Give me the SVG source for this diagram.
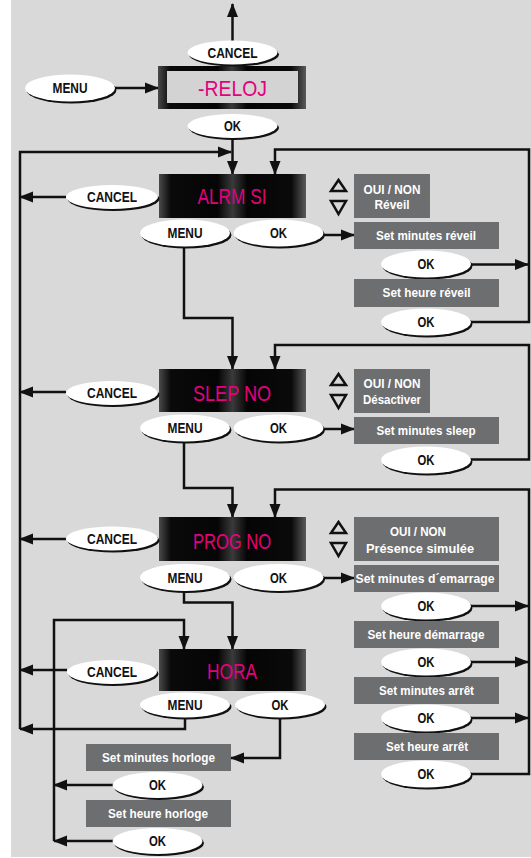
<svg xmlns="http://www.w3.org/2000/svg" width="531" height="858" viewBox="0 0 531 858">
<defs>
<style>
.bg{fill:#d9d9d9}
.ln{fill:none;stroke:#111;stroke-width:2.5;marker-end:url(#ah)}
.sh{fill:#111}
.bf{fill:#fff}
.bt{font-family:"Liberation Sans",Arial,sans-serif;font-weight:bold;font-size:14px;fill:#111;text-anchor:middle}
.bx{fill:#6d6e70}
.bxt{font-family:"Liberation Sans",Arial,sans-serif;font-weight:bold;font-size:13.5px;fill:#fff;text-anchor:middle}
.lcd{fill:url(#lcdg)}
.lt{font-family:"Liberation Sans",Arial,sans-serif;font-size:22px;fill:#e5007d;text-anchor:middle}
.tri{fill:none;stroke:#111;stroke-width:2.5;stroke-linejoin:miter}
</style>
<marker id="ah" markerUnits="userSpaceOnUse" markerWidth="15" markerHeight="12" refX="13" refY="6" orient="auto" viewBox="0 0 15 12"><path d="M0,0.5 L14,6 L0,11.5 Z" fill="#111"/></marker>
<linearGradient id="lcdg" x1="0" y1="0" x2="1" y2="0">
<stop offset="0" stop-color="#4a4a4a"/>
<stop offset="0.08" stop-color="#0a0a0a"/>
<stop offset="0.4" stop-color="#050505"/>
<stop offset="0.5" stop-color="#3a3a3a"/>
<stop offset="0.6" stop-color="#050505"/>
<stop offset="0.9" stop-color="#0a0a0a"/>
<stop offset="1" stop-color="#5a5a5a"/>
</linearGradient>
</defs>
<rect class="bg" x="11" y="0" width="520" height="857"/>

<g id="connectors">
<path class="ln" d="M232.5,41 V4"/>
<path class="ln" d="M115,88 H158"/>
<path class="ln" d="M232.5,138 V174"/>
<path class="ln" d="M20,729 V152 H231"/>
<path class="ln" d="M66,197 H20"/>
<path class="ln" d="M323,235 H354"/>
<path class="ln" d="M471,264.5 H528"/>
<path class="ln" d="M471,322 H529 V149.5 H275 V174"/>
<path class="ln" d="M184,246 V318 H232.5 V369"/>
<path class="ln" d="M66,392 H20"/>
<path class="ln" d="M323,429 H354"/>
<path class="ln" d="M471,459.5 H529 V345 H275 V369"/>
<path class="ln" d="M184,441 V488 H232.5 V517"/>
<path class="ln" d="M66,539 H20"/>
<path class="ln" d="M323,578 H354"/>
<path class="ln" d="M471,606 H528"/>
<path class="ln" d="M471,662 H528"/>
<path class="ln" d="M471,718 H528"/>
<path class="ln" d="M471,774 H529 V489.5 H275 V517"/>
<path class="ln" d="M184,591 V602.5 H232.5 V649"/>
<path class="ln" d="M54,841 V620 H184 V649"/>
<path class="ln" d="M113,785 H54"/>
<path class="ln" d="M113,841 H54"/>
<path class="ln" d="M67,670 H20"/>
<path class="ln" d="M185,718 V729 H20"/>
<path class="ln" d="M280,718 V758 H231"/>
</g>

<g id="disp-reloj">
<rect class="lcd" x="158" y="66" width="148" height="43"/>
<rect x="167" y="71" width="131" height="32" fill="#d3d3d3"/>
<text class="lt" x="232.5" y="96" textLength="69" lengthAdjust="spacingAndGlyphs">-RELOJ</text>
</g>
<g id="disp-alrm">
<rect class="lcd" x="159" y="174" width="147" height="44"/>
<text class="lt" x="232" y="204" textLength="69" lengthAdjust="spacingAndGlyphs">ALRM SI</text>
</g>
<g id="disp-slep">
<rect class="lcd" x="159" y="369" width="147" height="43"/>
<text class="lt" x="232" y="401" textLength="78" lengthAdjust="spacingAndGlyphs">SLEP NO</text>
</g>
<g id="disp-prog">
<rect class="lcd" x="159" y="517" width="147" height="44"/>
<text class="lt" x="232" y="549" textLength="78" lengthAdjust="spacingAndGlyphs">PROG NO</text>
</g>
<g id="disp-hora">
<rect class="lcd" x="159" y="649" width="147" height="42"/>
<text class="lt" x="232" y="679" textLength="50" lengthAdjust="spacingAndGlyphs">HORA</text>
</g>

<g id="btn-cancel-top"><ellipse class="sh" cx="234" cy="54.5" rx="45" ry="12"/><ellipse class="bf" cx="232.5" cy="52.5" rx="45" ry="12"/><text class="bt" x="232.5" y="57.5" textLength="50" lengthAdjust="spacingAndGlyphs">CANCEL</text></g>
<g id="btn-menu-top"><ellipse class="sh" cx="71.5" cy="90" rx="45" ry="13.5"/><ellipse class="bf" cx="70" cy="88" rx="45" ry="13.5"/><text class="bt" x="70" y="93" textLength="35" lengthAdjust="spacingAndGlyphs">MENU</text></g>
<g id="btn-ok-reloj"><ellipse class="sh" cx="234" cy="128" rx="45" ry="12"/><ellipse class="bf" cx="232.5" cy="126" rx="45" ry="12"/><text class="bt" x="232.5" y="131" textLength="17" lengthAdjust="spacingAndGlyphs">OK</text></g>

<g id="btn-cancel-alrm"><ellipse class="sh" cx="113.5" cy="199" rx="46" ry="12"/><ellipse class="bf" cx="112" cy="197" rx="46" ry="12"/><text class="bt" x="112" y="202" textLength="50" lengthAdjust="spacingAndGlyphs">CANCEL</text></g>
<g id="btn-menu-alrm"><ellipse class="sh" cx="186.5" cy="235" rx="45" ry="13.5"/><ellipse class="bf" cx="185" cy="233" rx="45" ry="13.5"/><text class="bt" x="185" y="238" textLength="35" lengthAdjust="spacingAndGlyphs">MENU</text></g>
<g id="btn-ok-alrm"><ellipse class="sh" cx="280" cy="235" rx="45" ry="13.5"/><ellipse class="bf" cx="278.5" cy="233" rx="45" ry="13.5"/><text class="bt" x="278.5" y="238" textLength="17" lengthAdjust="spacingAndGlyphs">OK</text></g>
<g id="sel-alrm"><path class="tri" d="M331,191 H346 L338.5,180 Z"/><path class="tri" d="M331,201 H346 L338.5,214 Z"/><rect class="bx" x="354" y="174" width="76" height="44"/><text class="bxt" x="392" y="193.5" textLength="57" lengthAdjust="spacingAndGlyphs">OUI / NON</text><text class="bxt" x="392" y="209" textLength="35" lengthAdjust="spacingAndGlyphs">Réveil</text></g>
<g id="box-min-reveil"><rect class="bx" x="354" y="222" width="145" height="27"/><text class="bxt" x="426" y="240" textLength="100" lengthAdjust="spacingAndGlyphs">Set minutes réveil</text></g>
<g id="btn-ok-min-reveil"><ellipse class="sh" cx="427.5" cy="266" rx="45" ry="13.5"/><ellipse class="bf" cx="426" cy="264" rx="45" ry="13.5"/><text class="bt" x="426" y="269" textLength="17" lengthAdjust="spacingAndGlyphs">OK</text></g>
<g id="box-heure-reveil"><rect class="bx" x="354" y="279" width="145" height="28"/><text class="bxt" x="426.5" y="297" textLength="88" lengthAdjust="spacingAndGlyphs">Set heure réveil</text></g>
<g id="btn-ok-heure-reveil"><ellipse class="sh" cx="427.5" cy="324" rx="45" ry="13.5"/><ellipse class="bf" cx="426" cy="322" rx="45" ry="13.5"/><text class="bt" x="426" y="327" textLength="17" lengthAdjust="spacingAndGlyphs">OK</text></g>

<g id="btn-cancel-slep"><ellipse class="sh" cx="113.5" cy="395" rx="46" ry="12"/><ellipse class="bf" cx="112" cy="393" rx="46" ry="12"/><text class="bt" x="112" y="398" textLength="50" lengthAdjust="spacingAndGlyphs">CANCEL</text></g>
<g id="btn-menu-slep"><ellipse class="sh" cx="186.5" cy="430" rx="45" ry="13.5"/><ellipse class="bf" cx="185" cy="428" rx="45" ry="13.5"/><text class="bt" x="185" y="433" textLength="35" lengthAdjust="spacingAndGlyphs">MENU</text></g>
<g id="btn-ok-slep"><ellipse class="sh" cx="280" cy="430" rx="45" ry="13.5"/><ellipse class="bf" cx="278.5" cy="428" rx="45" ry="13.5"/><text class="bt" x="278.5" y="433" textLength="17" lengthAdjust="spacingAndGlyphs">OK</text></g>
<g id="sel-slep"><path class="tri" d="M331,385 H346 L338.5,374 Z"/><path class="tri" d="M331,395 H346 L338.5,408 Z"/><rect class="bx" x="354" y="369" width="76" height="44"/><text class="bxt" x="392" y="387.5" textLength="57" lengthAdjust="spacingAndGlyphs">OUI / NON</text><text class="bxt" x="392" y="404" textLength="58" lengthAdjust="spacingAndGlyphs">Désactiver</text></g>
<g id="box-min-sleep"><rect class="bx" x="354" y="417" width="145" height="27"/><text class="bxt" x="426" y="435" textLength="99" lengthAdjust="spacingAndGlyphs">Set minutes sleep</text></g>
<g id="btn-ok-sleep"><ellipse class="sh" cx="427.5" cy="462" rx="45" ry="13.5"/><ellipse class="bf" cx="426" cy="460" rx="45" ry="13.5"/><text class="bt" x="426" y="465" textLength="17" lengthAdjust="spacingAndGlyphs">OK</text></g>

<g id="btn-cancel-prog"><ellipse class="sh" cx="113.5" cy="540.5" rx="46" ry="12"/><ellipse class="bf" cx="112" cy="538.5" rx="46" ry="12"/><text class="bt" x="112" y="543.5" textLength="50" lengthAdjust="spacingAndGlyphs">CANCEL</text></g>
<g id="btn-menu-prog"><ellipse class="sh" cx="186.5" cy="579.5" rx="45" ry="13.5"/><ellipse class="bf" cx="185" cy="577.5" rx="45" ry="13.5"/><text class="bt" x="185" y="582.5" textLength="35" lengthAdjust="spacingAndGlyphs">MENU</text></g>
<g id="btn-ok-prog"><ellipse class="sh" cx="280" cy="579.5" rx="45" ry="13.5"/><ellipse class="bf" cx="278.5" cy="577.5" rx="45" ry="13.5"/><text class="bt" x="278.5" y="582.5" textLength="17" lengthAdjust="spacingAndGlyphs">OK</text></g>
<g id="sel-prog"><path class="tri" d="M331,533 H346 L338.5,522 Z"/><path class="tri" d="M331,543 H346 L338.5,556 Z"/><rect class="bx" x="354" y="517" width="145" height="44"/><text class="bxt" x="418" y="535.5" textLength="56" lengthAdjust="spacingAndGlyphs">OUI / NON</text><text class="bxt" x="420" y="553" textLength="108" lengthAdjust="spacingAndGlyphs">Présence simulée</text></g>
<g id="box-min-dem"><rect class="bx" x="354" y="565" width="145" height="27"/><text class="bxt" x="425" y="583" textLength="139" lengthAdjust="spacingAndGlyphs">Set minutes d´emarrage</text></g>
<g id="btn-ok-min-dem"><ellipse class="sh" cx="427.5" cy="608" rx="45" ry="13.5"/><ellipse class="bf" cx="426" cy="606" rx="45" ry="13.5"/><text class="bt" x="426" y="611" textLength="17" lengthAdjust="spacingAndGlyphs">OK</text></g>
<g id="box-heure-dem"><rect class="bx" x="354" y="621" width="145" height="27"/><text class="bxt" x="426" y="639" textLength="117" lengthAdjust="spacingAndGlyphs">Set heure démarrage</text></g>
<g id="btn-ok-heure-dem"><ellipse class="sh" cx="427.5" cy="664" rx="45" ry="13.5"/><ellipse class="bf" cx="426" cy="662" rx="45" ry="13.5"/><text class="bt" x="426" y="667" textLength="17" lengthAdjust="spacingAndGlyphs">OK</text></g>
<g id="box-min-arret"><rect class="bx" x="354" y="677" width="145" height="27"/><text class="bxt" x="426.5" y="695" textLength="95" lengthAdjust="spacingAndGlyphs">Set minutes arrêt</text></g>
<g id="btn-ok-min-arret"><ellipse class="sh" cx="427.5" cy="720" rx="45" ry="13.5"/><ellipse class="bf" cx="426" cy="718" rx="45" ry="13.5"/><text class="bt" x="426" y="723" textLength="17" lengthAdjust="spacingAndGlyphs">OK</text></g>
<g id="box-heure-arret"><rect class="bx" x="354" y="733" width="145" height="27"/><text class="bxt" x="427" y="751" textLength="82" lengthAdjust="spacingAndGlyphs">Set heure arrêt</text></g>
<g id="btn-ok-heure-arret"><ellipse class="sh" cx="427.5" cy="776" rx="45" ry="13.5"/><ellipse class="bf" cx="426" cy="774" rx="45" ry="13.5"/><text class="bt" x="426" y="779" textLength="17" lengthAdjust="spacingAndGlyphs">OK</text></g>

<g id="btn-cancel-hora"><ellipse class="sh" cx="113.5" cy="674" rx="45" ry="12"/><ellipse class="bf" cx="112" cy="672" rx="45" ry="12"/><text class="bt" x="112" y="677" textLength="50" lengthAdjust="spacingAndGlyphs">CANCEL</text></g>
<g id="btn-menu-hora"><ellipse class="sh" cx="186.5" cy="707" rx="45" ry="12.5"/><ellipse class="bf" cx="185" cy="705" rx="45" ry="12.5"/><text class="bt" x="185" y="710" textLength="35" lengthAdjust="spacingAndGlyphs">MENU</text></g>
<g id="btn-ok-hora"><ellipse class="sh" cx="281.5" cy="707" rx="45" ry="12.5"/><ellipse class="bf" cx="280" cy="705" rx="45" ry="12.5"/><text class="bt" x="280" y="710" textLength="17" lengthAdjust="spacingAndGlyphs">OK</text></g>
<g id="box-min-horloge"><rect class="bx" x="86" y="744" width="145" height="27"/><text class="bxt" x="158.5" y="762" textLength="113" lengthAdjust="spacingAndGlyphs">Set minutes horloge</text></g>
<g id="btn-ok-min-horloge"><ellipse class="sh" cx="159" cy="787" rx="45" ry="13"/><ellipse class="bf" cx="157.5" cy="785" rx="45" ry="13"/><text class="bt" x="157.5" y="790" textLength="17" lengthAdjust="spacingAndGlyphs">OK</text></g>
<g id="box-heure-horloge"><rect class="bx" x="86" y="800" width="145" height="27"/><text class="bxt" x="158" y="818" textLength="100" lengthAdjust="spacingAndGlyphs">Set heure horloge</text></g>
<g id="btn-ok-heure-horloge"><ellipse class="sh" cx="159" cy="843" rx="45" ry="13"/><ellipse class="bf" cx="157.5" cy="841" rx="45" ry="13"/><text class="bt" x="157.5" y="846" textLength="17" lengthAdjust="spacingAndGlyphs">OK</text></g>
</svg>
